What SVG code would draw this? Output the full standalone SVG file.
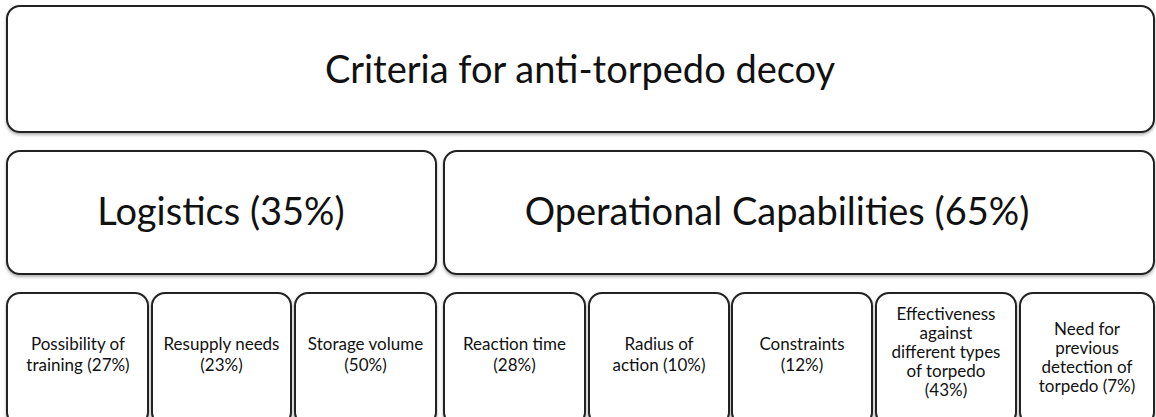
<svg xmlns="http://www.w3.org/2000/svg" width="1156" height="417" viewBox="0 0 1156 417">
<defs>
<filter id="sh" x="-5%" y="-10%" width="110%" height="125%">
<feDropShadow dx="0" dy="2" stdDeviation="1.5" flood-color="#000" flood-opacity="0.3"/>
</filter>
<style>
.b{fill:#fff;stroke:#222;stroke-width:2;filter:url(#sh)}
text{font-family:Lato,"Open Sans","Liberation Sans",sans-serif;fill:#111;text-anchor:middle}
.t1{font-size:38px}
.t2{font-size:38px}
.t3{font-size:17px}
</style>
</defs>
<rect width="1156" height="417" fill="#fff"/>
<g id="root"><rect class="b" x="7" y="6" width="1147" height="126" rx="13"/><text class="t1" x="580" y="83">Criteria for anti-torpedo decoy</text></g>
<g id="logistics"><rect class="b" x="7" y="151" width="429" height="123" rx="13"/><text class="t2" x="221" y="225">Logistics (35%)</text></g>
<g id="operational"><rect class="b" x="444" y="151" width="710" height="123" rx="13"/><text class="t2" x="777" y="225">Operational Capabilities (65%)</text></g>
<g id="training"><rect class="b" x="7" y="293" width="141" height="132" rx="13"/><text class="t3" x="78" y="350">Possibility of</text><text class="t3" x="78" y="371">training (27%)</text></g>
<g id="resupply"><rect class="b" x="152" y="293" width="139" height="132" rx="13"/><text class="t3" x="221.5" y="350">Resupply needs</text><text class="t3" x="221.5" y="371">(23%)</text></g>
<g id="storage"><rect class="b" x="295" y="293" width="141" height="132" rx="13"/><text class="t3" x="365.5" y="350">Storage volume</text><text class="t3" x="365.5" y="371">(50%)</text></g>
<g id="reaction"><rect class="b" x="444" y="293" width="141" height="132" rx="13"/><text class="t3" x="514.5" y="350">Reaction time</text><text class="t3" x="514.5" y="371">(28%)</text></g>
<g id="radius"><rect class="b" x="589" y="293" width="140" height="132" rx="13"/><text class="t3" x="659" y="350">Radius of</text><text class="t3" x="659" y="371">action (10%)</text></g>
<g id="constraints"><rect class="b" x="732" y="293" width="140" height="132" rx="13"/><text class="t3" x="802" y="350">Constraints</text><text class="t3" x="802" y="371">(12%)</text></g>
<g id="effectiveness"><rect class="b" x="876" y="293" width="140" height="132" rx="13"/><text class="t3" x="946" y="320">Effectiveness</text><text class="t3" x="946" y="339">against</text><text class="t3" x="946" y="358">different types</text><text class="t3" x="946" y="377">of torpedo</text><text class="t3" x="946" y="396">(43%)</text></g>
<g id="detection"><rect class="b" x="1020" y="293" width="134" height="132" rx="13"/><text class="t3" x="1087" y="335">Need for</text><text class="t3" x="1087" y="354">previous</text><text class="t3" x="1087" y="373">detection of</text><text class="t3" x="1087" y="392">torpedo (7%)</text></g>
<g id="connectors"></g>
</svg>
